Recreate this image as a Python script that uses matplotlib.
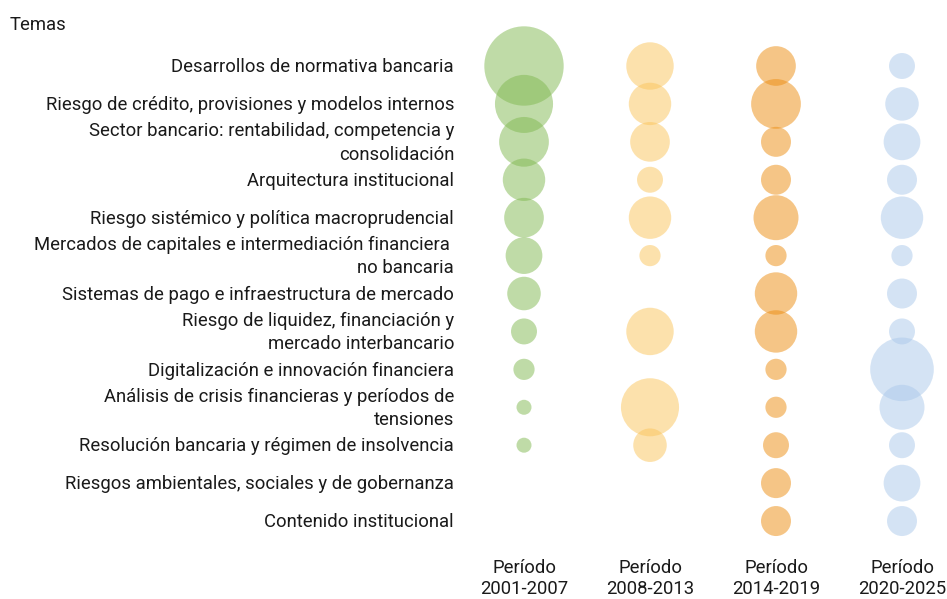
import matplotlib
matplotlib.use("Agg")
import matplotlib.pyplot as plt
import numpy as np

plt.rcParams['font.family'] = ['Roboto', 'DejaVu Sans']

temas = [
    "Desarrollos de normativa bancaria",
    "Riesgo de crédito, provisiones y modelos internos",
    "Sector bancario: rentabilidad, competencia y\nconsolidación",
    "Arquitectura institucional",
    "Riesgo sistémico y política macroprudencial",
    "Mercados de capitales e intermediación financiera \nno bancaria",
    "Sistemas de pago e infraestructura de mercado",
    "Riesgo de liquidez, financiación y\nmercado interbancario",
    "Digitalización e innovación financiera",
    "Análisis de crisis financieras y períodos de\ntensiones",
    "Resolución bancaria y régimen de insolvencia",
    "Riesgos ambientales, sociales y de gobernanza",
    "Contenido institucional",
]
periodos = ["Período\n2001-2007", "Período\n2008-2013", "Período\n2014-2019", "Período\n2020-2025"]

p2001_2007 = [28, 15, 11, 8, 7, 6, 5, 3, 2, 1, 1, 0, 0]
p2008_2013 = [10, 8, 7, 3, 8, 2, 0, 10, 0, 15, 5, 0, 0]
p2014_2019 = [7, 11, 4, 4, 9, 2, 8, 8, 2, 2, 3, 4, 4]
p2020_2025 = [3, 5, 6, 4, 8, 2, 4, 3, 18, 9, 3, 6, 4]

series = [p2001_2007, p2008_2013, p2014_2019, p2020_2025]
colors = ["#81b951", "#fbc55b", "#ed8d0f", "#abc9eb"]

W, H, DPI = 947, 599, 100
fig = plt.figure(figsize=(W / DPI, H / DPI), dpi=DPI)

# axes geometry in pixels
x0_px, dx_px = 524, 126
y0_px, dy_px = 66, 37.92
ax_left = 461
ax = fig.add_axes([ax_left / W, 0, (W - ax_left) / W, 1])
ax.set_xlim(-(x0_px - ax_left) / dx_px, (W - x0_px) / dx_px)
ax.set_ylim((H - y0_px) / dy_px, -y0_px / dy_px)
ax.axis('off')

unit = (15 * 72 / DPI) ** 2  # area (pt^2) for one item
for i, (vals, c) in enumerate(zip(series, colors)):
    vals = np.array(vals)
    ys = np.arange(len(vals))
    m = vals > 0
    ax.scatter(np.full(m.sum(), i), ys[m], s=vals[m] * unit, color=c, alpha=0.5,
               linewidths=0, zorder=2)

fs = 13.3
for j, t in enumerate(temas):
    ax.text(-(x0_px - 454) / dx_px, j + 0.03, t, ha='right', va='center', fontsize=fs,
            color='#1a1a1a', linespacing=1.38)

for i, p in enumerate(periodos):
    ax.text(i, (578.5 - y0_px) / dy_px, p, ha='center', va='center', fontsize=fs,
            color='#1a1a1a', linespacing=1.25)

fig.text(10 / W, 1 - 25 / H, "Temas", ha='left', va='center', fontsize=fs, color='#1a1a1a')

fig.savefig("out.png", dpi=DPI, facecolor='white')
